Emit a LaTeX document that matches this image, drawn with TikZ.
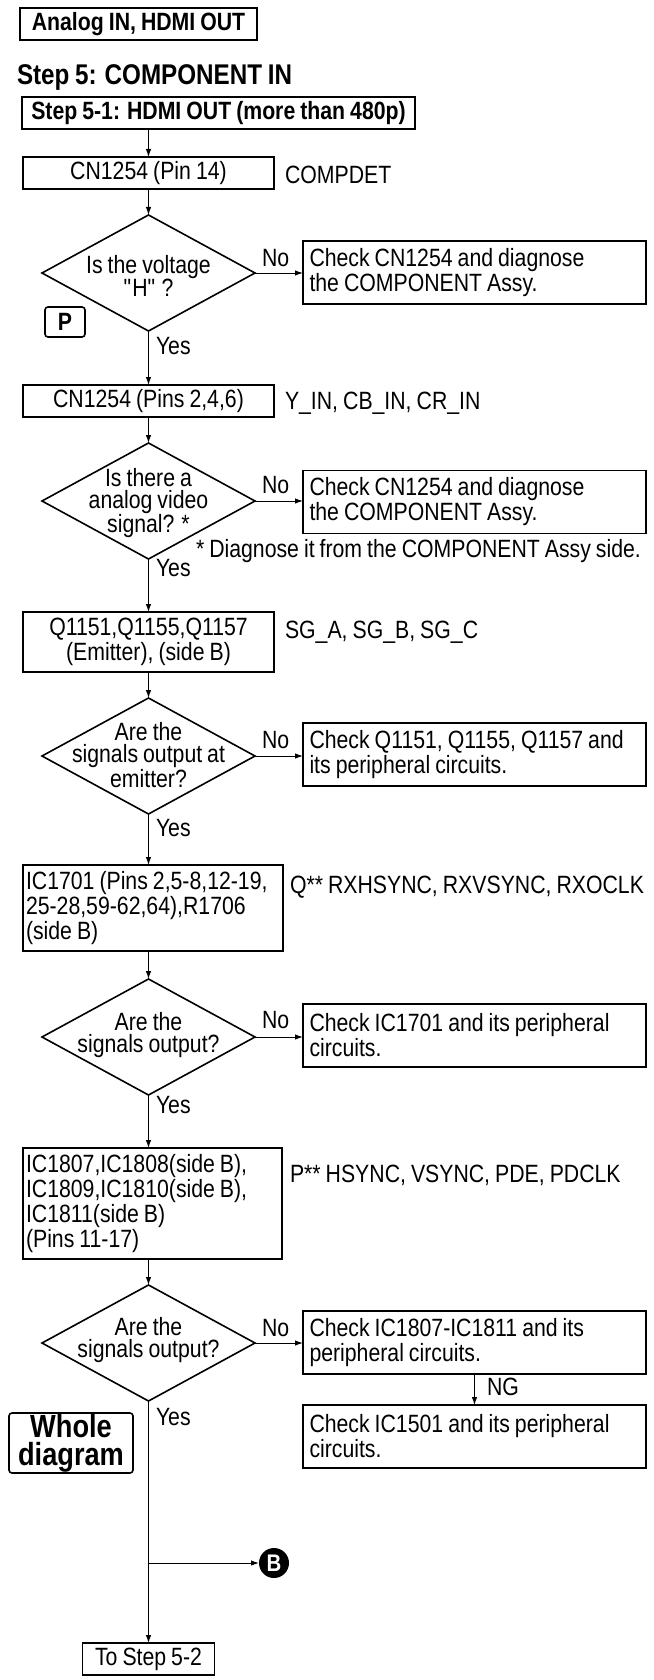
\documentclass[tikz,border=0pt]{standalone}
\usepackage{fontspec}
\setmainfont{Liberation Sans}[FakeStretch=0.85,WordSpace=0.85]
\usetikzlibrary{shapes.geometric,arrows.meta}
\begin{document}
\begin{tikzpicture}[x=1pt,y=-1pt,
  every node/.style={font=\fontsize{25}{25}\selectfont, inner sep=0pt, outer sep=0pt,
    execute at begin node={\spaceskip=0pt\xspaceskip=0pt\relax}},
  box/.style={draw, line width=1.6pt, rectangle, inner sep=0pt},
  chk/.style={box, minimum width=343pt, minimum height=63pt, text width=330pt, align=left},
  dia/.style={draw, line width=1.6pt, diamond, minimum width=213pt, minimum height=116pt, inner sep=0pt},
  dtext/.style={align=center, font=\fontsize{25}{22}\selectfont},
  side/.style={anchor=west},
  conn/.style={line width=1pt, -{Latex[length=8pt,width=5.5pt]}},
  bbox/.style={box, font=\fontsize{25}{25}\selectfont\bfseries},
  rbox/.style={draw, line width=1.6pt, rounded corners=3pt, inner sep=0pt}
]
\useasboundingbox (0,0) rectangle (653,1680);

% header
\node[bbox, minimum width=237pt, minimum height=32pt] (hdr) at (138.5,24) {Analog IN, HDMI OUT};
\node[anchor=base west, font=\fontsize{28.5}{30}\selectfont\bfseries] (title) at (17,85) {Step 5: COMPONENT IN};
\node[bbox, minimum width=393pt, minimum height=32pt] (s51) at (218.5,113) {Step 5-1: HDMI OUT (more than 480p)};

% CN1254 pin 14
\node[box, minimum width=251pt, minimum height=32pt] (cn1) at (148.5,173) {CN1254 (Pin 14)};
\node[side] (compdet) at (285,175) {COMPDET};

% diamond 1
\node[dia] (d1) at (148.5,273) {};
\node[dtext] (d1t) at (148.5,276) {Is the voltage\\\textquotedbl H\textquotedbl\ ?};
\node[chk] (c1) at (474.5,272.5) {Check CN1254 and diagnose\\the COMPONENT Assy.};
\node[side] (no1) at (262,258) {No};
\node[rbox, minimum width=40pt, minimum height=30pt, font=\fontsize{25}{25}\selectfont\bfseries] (pbox) at (65,322) {P};
\node[side] (yes1) at (156,346) {Yes};

% CN1254 pins 2,4,6
\node[box, minimum width=251pt, minimum height=32pt] (cn2) at (148.5,401) {CN1254 (Pins 2,4,6)};
\node[side] (yin) at (285,403) {Y\_IN, CB\_IN, CR\_IN};

% diamond 2
\node[dia] (d2) at (148.5,501) {};
\node[dtext] (d2t) at (148.5,503) {Is there a\\analog video\\signal? *};
\node[chk] (c2) at (474.5,502) {Check CN1254 and diagnose\\the COMPONENT Assy.};
\node[side] (no2) at (262,485) {No};
\node[side] (foot) at (196,551) {* Diagnose it from the COMPONENT Assy side.};
\node[side] (yes2) at (156,568) {Yes};

% Q1151
\node[box, minimum width=251pt, minimum height=60pt, align=center] (q1) at (148.5,642) {Q1151,Q1155,Q1157\\(Emitter), (side B)};
\node[side] (sg) at (285,632) {SG\_A, SG\_B, SG\_C};

% diamond 3
\node[dia] (d3) at (148.5,756) {};
\node[dtext] (d3t) at (148.5,755) {Are the\\signals output at\\emitter?};
\node[chk] (c3) at (474.5,754.5) {Check Q1151, Q1155, Q1157 and\\its peripheral circuits.};
\node[side] (no3) at (262,740) {No};
\node[side] (yes3) at (156,828) {Yes};

% IC1701
\node[box, minimum width=260pt, minimum height=86pt, text width=254pt, align=left] (ic17) at (153,908) {IC1701 (Pins 2,5-8,12-19,\\25-28,59-62,64),R1706\\(side B)};
\node[side] (qss) at (290,887) {Q** RXHSYNC, RXVSYNC, RXOCLK};

% diamond 4
\node[dia] (d4) at (148.5,1037) {};
\node[dtext] (d4t) at (148.5,1035) {Are the\\signals output?};
\node[chk] (c4) at (474.5,1035.5) {Check IC1701 and its peripheral\\circuits.};
\node[side] (no4) at (262,1020) {No};
\node[side] (yes4) at (156,1105) {Yes};

% IC1807
\node[box, minimum width=259pt, minimum height=111pt, text width=253pt, align=left] (ic18) at (152.5,1203.5) {IC1807,IC1808(side B),\\IC1809,IC1810(side B),\\IC1811(side B)\\(Pins 11-17)};
\node[side] (pss) at (290,1175) {P** HSYNC, VSYNC, PDE, PDCLK};

% diamond 5
\node[dia] (d5) at (148.5,1343) {};
\node[dtext] (d5t) at (148.5,1340) {Are the\\signals output?};
\node[chk] (c5) at (474.5,1342.5) {Check IC1807-IC1811 and its\\peripheral circuits.};
\node[side] (no5) at (262,1328) {No};
\node[chk] (c6) at (474.5,1436.5) {Check IC1501 and its peripheral\\circuits.};
\node[side] (ng) at (487,1387) {NG};
\node[side] (yes5) at (156,1417) {Yes};
\node[rbox, minimum width=124pt, minimum height=60pt, align=center, font=\fontsize{32}{28}\selectfont\bfseries] (whole) at (71,1443) {Whole\\diagram};

\coordinate (br) at (148.5,1563);
\node[circle, fill=black, text=white, minimum size=30pt, font=\fontsize{24}{24}\selectfont\bfseries] (bB) at (274,1563) {B};
\node[box, minimum width=132pt, minimum height=32pt] (to52) at (148.5,1659) {To Step 5-2};

% connectors
\draw[conn] (s51.south -| cn1.north) -- (cn1.north);
\draw[conn] (cn1.south) -- (d1.north);
\draw[conn] (d1.east) -- (d1.east -| c1.west);
\draw[conn] (d1.south) -- (cn2.north);
\draw[conn] (cn2.south) -- (d2.north);
\draw[conn] (d2.east) -- (d2.east -| c2.west);
\draw[conn] (d2.south) -- (q1.north);
\draw[conn] (q1.south) -- (d3.north);
\draw[conn] (d3.east) -- (d3.east -| c3.west);
\draw[conn] (d3.south) -- (d3.south |- ic17.north);
\draw[conn] (d3.south |- ic17.south) -- (d4.north);
\draw[conn] (d4.east) -- (d4.east -| c4.west);
\draw[conn] (d4.south) -- (d4.south |- ic18.north);
\draw[conn] (d4.south |- ic18.south) -- (d5.north);
\draw[conn] (d5.east) -- (d5.east -| c5.west);
\draw[conn] (c5.south) -- (c6.north);
\draw[conn] (d5.south) -- (d5.south |- to52.north);
\draw[conn] (br) -- (bB.west);
\end{tikzpicture}
\end{document}
